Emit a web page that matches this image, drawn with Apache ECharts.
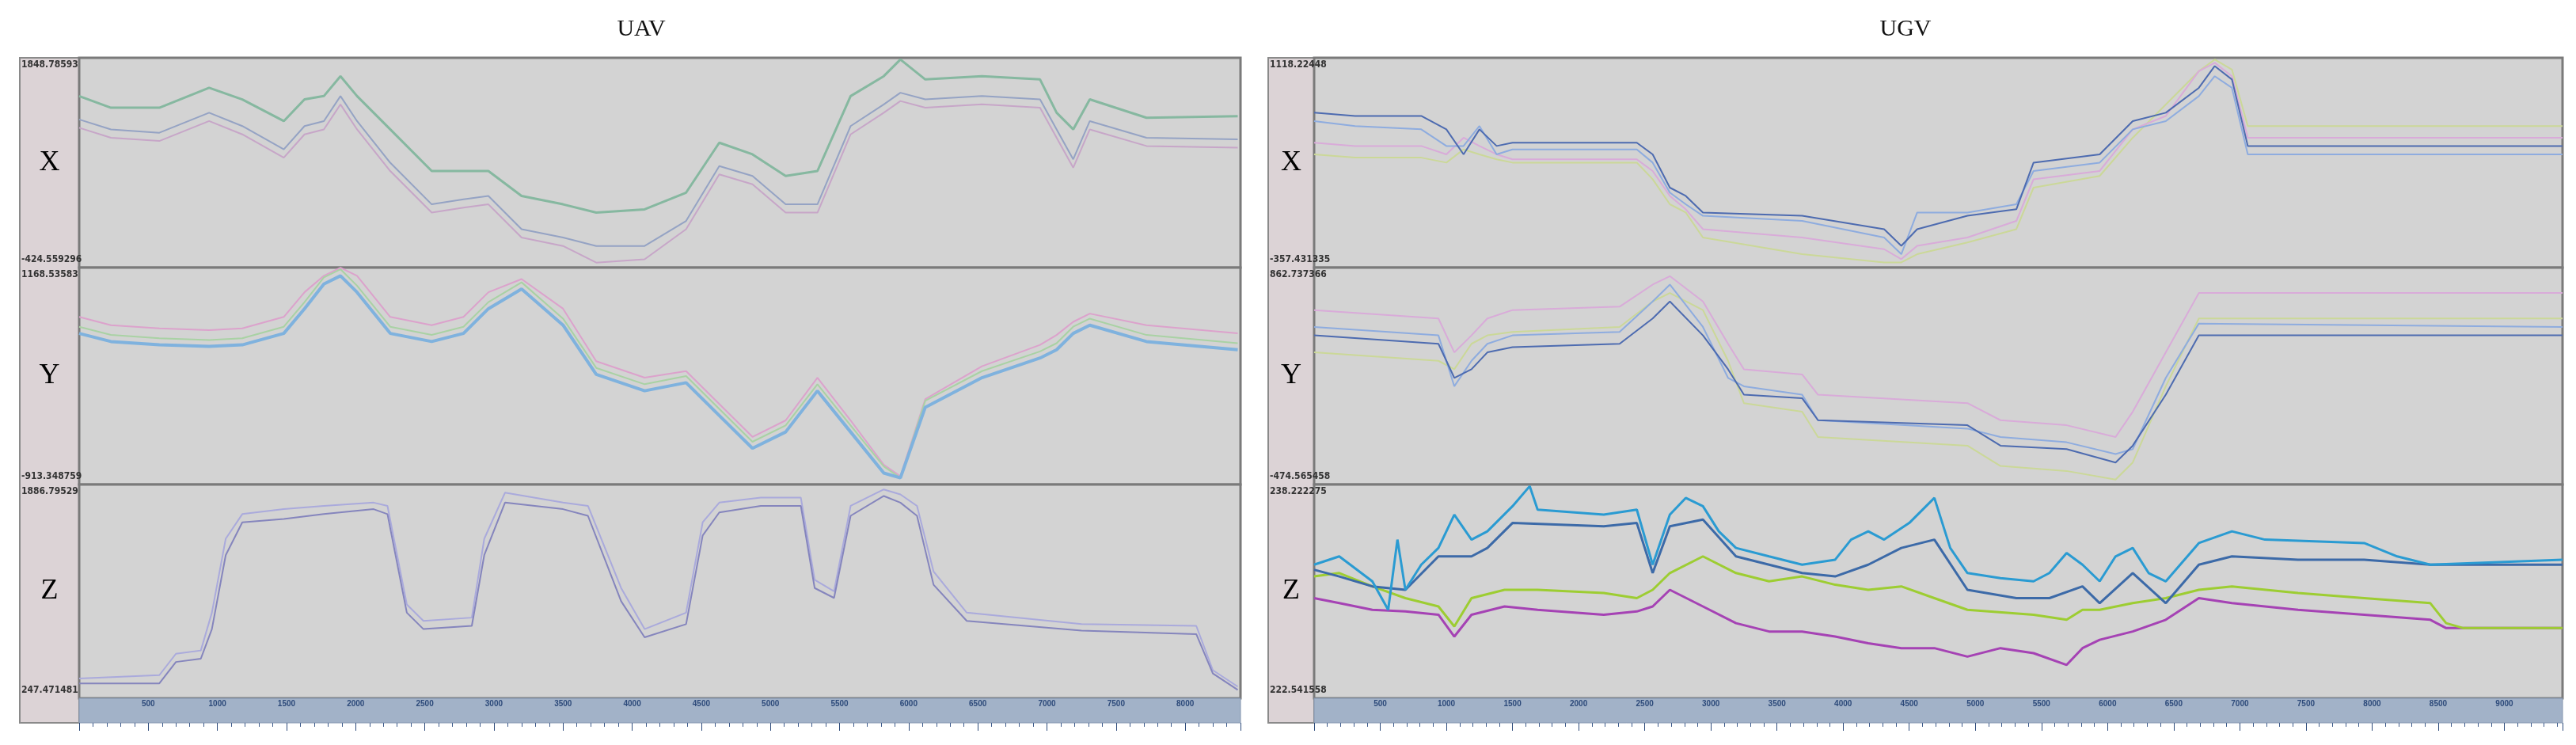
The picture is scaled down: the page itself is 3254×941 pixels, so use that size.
<!DOCTYPE html>
<html>
<head>
<meta charset="utf-8">
<script src="https://cdn.jsdelivr.net/npm/echarts@6.0.0/dist/echarts.min.js"></script>
<style>
  html, body { margin: 0; padding: 0; background: #fff; }
  #chart { width: 3254px; height: 941px; }
</style>
</head>
<body>
<div id="chart"></div>
<script>
// ---------------- 数据 ----------------
// 面板标题与行名
const panelTitles = ['UAV', 'UGV'];
const rowNames = ['X', 'Y', 'Z'];
// 每行的纵轴范围（图中标注的最大/最小值）
const uavRanges = [[-424.559296, 1848.78593], [-913.348759, 1168.53583], [247.471481, 1886.79529]];
const ugvRanges = [[-357.431335, 1118.22448], [-474.565458, 862.737366], [222.541558, 238.222275]];
// 时间轴刻度
const uavTimeMax = 8400;
const ugvTimeMax = 9440;

// UAV X / Y 共用时间点
const uavT = [0, 230, 580, 940, 1180, 1480, 1630, 1770, 1890, 2010, 2250, 2550, 2780, 2960, 3200, 3500, 3740, 4090, 4390, 4630, 4870, 5110, 5340, 5580, 5820, 5940, 6120, 6530, 6950, 7070, 7190, 7310, 7720, 8380];
const uavXGreen = [1434, 1308, 1308, 1524, 1398, 1163, 1398, 1434, 1650, 1434, 1073, 622, 622, 622, 352, 261, 171, 207, 388, 929, 803, 568, 622, 1434, 1650, 1831, 1614, 1650, 1614, 1254, 1073, 1398, 1199, 1217];
const uavXBlue = [1181, 1073, 1037, 1254, 1109, 857, 1109, 1163, 1434, 1163, 712, 261, 316, 352, -9, -99, -190, -190, 81, 676, 568, 261, 261, 1109, 1344, 1470, 1398, 1434, 1398, 1073, 749, 1163, 983, 965];
const uavXPink = [1091, 983, 947, 1163, 1019, 767, 1019, 1073, 1344, 1073, 622, 171, 225, 261, -99, -190, -370, -334, -9, 586, 478, 171, 171, 1019, 1254, 1380, 1308, 1344, 1308, 983, 658, 1073, 893, 875];
const uavYPink = [695, 616, 585, 569, 585, 695, 932, 1090, 1168, 1090, 695, 616, 695, 932, 1058, 774, 270, 112, 175, -140, -456, -298, 112, -298, -724, -834, -93, 222, 427, 522, 648, 727, 616, 537];
const uavYGreen = [601, 522, 490, 474, 490, 601, 837, 1074, 1153, 995, 601, 522, 601, 837, 1027, 679, 206, 49, 127, -188, -503, -346, 49, -346, -740, -850, -109, 175, 364, 443, 601, 679, 522, 443];
const uavYBlue = [537, 459, 427, 412, 427, 537, 774, 1011, 1090, 932, 537, 459, 537, 774, 963, 616, 143, -14, 64, -251, -566, -409, -14, -409, -803, -850, -172, 112, 301, 380, 537, 616, 459, 380];

// UAV Z
const uavZT = [0, 580, 700, 880, 960, 1060, 1180, 1480, 1770, 2130, 2230, 2370, 2490, 2840, 2930, 3080, 3500, 3680, 3920, 4090, 4390, 4510, 4630, 4930, 5220, 5320, 5460, 5580, 5820, 5940, 6060, 6180, 6420, 7250, 8080, 8200, 8380];
const uavZUpper = [400, 425, 589, 614, 904, 1471, 1660, 1698, 1723, 1748, 1723, 967, 841, 866, 1471, 1824, 1748, 1723, 1093, 778, 904, 1597, 1748, 1786, 1786, 1156, 1068, 1723, 1849, 1811, 1723, 1219, 904, 816, 803, 463, 337];
const uavZLower = [362, 362, 526, 551, 778, 1345, 1597, 1622, 1660, 1698, 1660, 904, 778, 803, 1345, 1748, 1698, 1647, 992, 715, 816, 1496, 1673, 1723, 1723, 1093, 1017, 1647, 1799, 1748, 1647, 1118, 841, 766, 740, 438, 312];

// UGV X
const ugvXT = [0, 310, 810, 1000, 1130, 1250, 1380, 1500, 2440, 2560, 2690, 2810, 2940, 3690, 4310, 4440, 4560, 4940, 5310, 5440, 5940, 6190, 6440, 6690, 6810, 6940, 7060, 8060, 9440];
const ugvXDark = [732, 709, 709, 615, 439, 615, 498, 521, 521, 439, 205, 147, 30, 7, -87, -204, -87, 7, 53, 381, 439, 673, 732, 907, 1060, 966, 498, 498, 498];
const ugvXLight = [673, 638, 615, 498, 498, 638, 439, 474, 474, 381, 170, 88, 7, -29, -146, -263, 30, 30, 88, 322, 381, 615, 673, 849, 989, 907, 439, 439, 439];
const ugvXPink = [521, 498, 498, 439, 556, 498, 439, 404, 404, 322, 147, 53, -87, -146, -228, -298, -204, -146, -29, 264, 322, 615, 709, 1024, 1083, 989, 556, 556, 556];
const ugvXGreen = [439, 416, 416, 381, 474, 439, 404, 381, 381, 264, 88, 30, -146, -263, -321, -321, -263, -181, -87, 205, 287, 556, 790, 1024, 1106, 1036, 638, 638, 638];

// UGV Y
const ugvYT = [0, 940, 1060, 1190, 1310, 1500, 2310, 2560, 2690, 2940, 3130, 3250, 3690, 3810, 4940, 5190, 5690, 6060, 6190, 6440, 6690, 9440];
const ugvYDark = [445, 393, 183, 236, 340, 372, 393, 549, 654, 445, 236, 79, 58, -78, -109, -235, -256, -339, -235, 79, 445, 445];
const ugvYLight = [497, 445, 131, 288, 393, 445, 466, 654, 758, 497, 183, 131, 79, -78, -130, -182, -214, -287, -256, 183, 518, 497];
const ugvYPink = [601, 549, 340, 445, 549, 601, 622, 758, 810, 654, 393, 236, 204, 79, 27, -78, -109, -182, -26, 340, 706, 706];
const ugvYGreen = [340, 288, 236, 393, 445, 466, 497, 654, 706, 601, 288, 27, -26, -182, -235, -360, -391, -444, -339, 131, 549, 549];

// UGV Z（噪声较大，逐点读取）
const ugvZCyanT = [0, 190, 440, 560, 630, 690, 810, 940, 1060, 1190, 1310, 1500, 1630, 1690, 2190, 2440, 2560, 2690, 2810, 2940, 3060, 3190, 3440, 3690, 3940, 4060, 4190, 4310, 4500, 4690, 4810, 4940, 5190, 5440, 5560, 5690, 5810, 5940, 6060, 6190, 6310, 6440, 6690, 6940, 7190, 7940, 8190, 8440, 9440];
const ugvZCyan = [232.34, 232.95, 231.12, 229.03, 234.18, 230.50, 232.34, 233.57, 236.01, 234.18, 234.79, 236.63, 238.10, 236.38, 236.01, 236.38, 232.34, 236.01, 237.24, 236.63, 234.79, 233.57, 232.95, 232.34, 232.71, 234.18, 234.79, 234.18, 235.40, 237.24, 233.57, 231.73, 231.36, 231.12, 231.73, 233.20, 232.34, 231.12, 232.95, 233.57, 231.73, 231.12, 233.93, 234.79, 234.18, 233.93, 232.95, 232.34, 232.71];
const ugvZDarkT = [0, 190, 440, 690, 940, 1190, 1310, 1500, 2190, 2440, 2560, 2690, 2940, 3190, 3440, 3690, 3940, 4190, 4440, 4690, 4940, 5310, 5560, 5810, 5940, 6190, 6440, 6690, 6940, 7440, 7940, 8440, 9440];
const ugvZDark = [231.97, 231.48, 230.75, 230.50, 232.95, 232.95, 233.57, 235.40, 235.16, 235.40, 231.73, 235.16, 235.65, 232.95, 232.34, 231.73, 231.48, 232.34, 233.57, 234.18, 230.50, 229.89, 229.89, 230.75, 229.52, 231.73, 229.52, 232.34, 232.95, 232.71, 232.71, 232.34, 232.34];
const ugvZGreenT = [0, 190, 440, 690, 940, 1060, 1190, 1440, 1690, 2190, 2440, 2560, 2690, 2940, 3190, 3440, 3690, 3940, 4190, 4440, 4690, 4940, 5440, 5690, 5810, 5940, 6190, 6440, 6690, 6940, 7440, 7940, 8440, 8560, 8690, 9440];
const ugvZGreen = [231.48, 231.73, 230.75, 229.89, 229.28, 227.81, 229.89, 230.50, 230.50, 230.26, 229.89, 230.50, 231.73, 232.95, 231.73, 231.12, 231.48, 230.87, 230.50, 230.75, 229.89, 229.03, 228.67, 228.30, 229.03, 229.03, 229.52, 229.89, 230.50, 230.75, 230.26, 229.89, 229.52, 228.05, 227.69, 227.69];
const ugvZPurpleT = [0, 190, 440, 690, 940, 1060, 1190, 1440, 1690, 2190, 2440, 2560, 2690, 2940, 3190, 3440, 3690, 3940, 4190, 4440, 4690, 4940, 5190, 5440, 5690, 5810, 5940, 6190, 6440, 6690, 6940, 7440, 7940, 8440, 8560, 9440];
const ugvZPurple = [229.89, 229.52, 229.03, 228.91, 228.67, 227.07, 228.67, 229.28, 229.03, 228.67, 228.91, 229.28, 230.50, 229.28, 228.05, 227.44, 227.44, 227.07, 226.58, 226.22, 226.22, 225.60, 226.22, 225.85, 224.99, 226.22, 226.83, 227.44, 228.30, 229.89, 229.52, 229.03, 228.67, 228.30, 227.69, 227.69];

// ---------------- 布局 ----------------
(function () {
  let myChart = echarts.init(document.getElementById('chart'));

  const rowTop = [73, 338, 612];
  const rowH = [265, 274, 270];
  const barTop = 882, barH = 31;
  const panels = [
    { colLeft: 25, left: 100, width: 1467, tmax: uavTimeMax, ranges: uavRanges, titleX: 810 },
    { colLeft: 1602, left: 1660, width: 1577, tmax: ugvTimeMax, ranges: ugvRanges, titleX: 2407 }
  ];

  let grid = [], xAxis = [], yAxis = [], graphic = [];
  panels.forEach(function (p, pi) {
    // 左侧标签栏
    graphic.push({ type: 'rect', shape: { x: p.colLeft, y: rowTop[0], width: p.left - p.colLeft, height: barTop + barH - rowTop[0] },
      style: { fill: '#dcd3d6', stroke: '#8a8a8a', lineWidth: 2 }, z: -1 });
    graphic.push({ type: 'text', x: p.titleX, y: 37, style: { text: panelTitles[pi], font: '30px "Liberation Serif"', fill: '#111', align: 'center', verticalAlign: 'middle' } });
    for (let r = 0; r < 3; r++) {
      grid.push({ left: p.left, top: rowTop[r], width: p.width, height: rowH[r], show: true,
        backgroundColor: '#d3d3d3', borderColor: '#7a7a7a', borderWidth: 3 });
      xAxis.push({ type: 'value', gridIndex: grid.length - 1, min: 0, max: p.tmax, show: false });
      yAxis.push({ type: 'value', gridIndex: grid.length - 1, min: p.ranges[r][0], max: p.ranges[r][1], show: false });
      graphic.push({ type: 'text', x: (p.colLeft + p.left) / 2, y: rowTop[r] + rowH[r] / 2,
        style: { text: rowNames[r], font: '36px "Liberation Serif"', fill: '#000', align: 'center', verticalAlign: 'middle' } });
      graphic.push({ type: 'text', x: p.colLeft + 2, y: rowTop[r] + 3,
        style: { text: String(p.ranges[r][1]), font: 'bold 12px "Liberation Sans Narrow", "DejaVu Sans Condensed"', fill: '#333' } });
      graphic.push({ type: 'text', x: p.colLeft + 2, y: rowTop[r] + rowH[r] - 16,
        style: { text: String(p.ranges[r][0]), font: 'bold 12px "Liberation Sans Narrow", "DejaVu Sans Condensed"', fill: '#333' } });
    }
    // 底部蓝色时间条
    grid.push({ left: p.left, top: barTop, width: p.width, height: barH, show: true,
      backgroundColor: '#a2b2c8', borderColor: '#8496b0', borderWidth: 1 });
    xAxis.push({ type: 'value', gridIndex: grid.length - 1, min: 0, max: p.tmax, interval: 500, position: 'top',
      axisLine: { show: false },
      axisTick: { show: true, inside: true, length: 10, lineStyle: { color: '#2d4a7a' } },
      minorTick: { show: true, splitNumber: 5, length: 5, lineStyle: { color: '#3d5a8a' } },
      splitLine: { show: false },
      axisLabel: { inside: true, fontSize: 10, fontWeight: 'bold', color: '#2d4a7a', margin: 2,
        showMinLabel: false, showMaxLabel: false, formatter: function (v) { return String(v); } } });
    yAxis.push({ type: 'value', gridIndex: grid.length - 1, show: false });
  });

  function zip(t, v) { return t.map(function (x, i) { return [x, v[i]]; }); }
  function line(idx, t, v, color, width) {
    return { type: 'line', xAxisIndex: idx, yAxisIndex: idx, data: zip(t, v), showSymbol: false,
      lineStyle: { color: color, width: width || 2 }, itemStyle: { color: color }, silent: true };
  }

  let series = [
    line(0, uavT, uavXGreen, '#86b8a0', 3),
    line(0, uavT, uavXBlue, '#95a3c4'),
    line(0, uavT, uavXPink, '#c7a6c8'),
    line(1, uavT, uavYPink, '#dca2cc'),
    line(1, uavT, uavYGreen, '#a9d2a4'),
    line(1, uavT, uavYBlue, '#7fb2de', 4),
    line(2, uavZT, uavZUpper, '#aaaadc'),
    line(2, uavZT, uavZLower, '#8585bd'),
    line(4, ugvXT, ugvXGreen, '#cbd898'),
    line(4, ugvXT, ugvXPink, '#d9abd9'),
    line(4, ugvXT, ugvXLight, '#8eacdf'),
    line(4, ugvXT, ugvXDark, '#4d6bb0'),
    line(5, ugvYT, ugvYGreen, '#cbd898'),
    line(5, ugvYT, ugvYPink, '#d9abd9'),
    line(5, ugvYT, ugvYLight, '#8eacdf'),
    line(5, ugvYT, ugvYDark, '#4d6bb0'),
    line(6, ugvZPurpleT, ugvZPurple, '#a542b4', 3),
    line(6, ugvZGreenT, ugvZGreen, '#9dcd32', 3),
    line(6, ugvZDarkT, ugvZDark, '#3c6aa8', 3),
    line(6, ugvZCyanT, ugvZCyan, '#2a9bd2', 3)
  ];

  let option = {
    animation: false,
    backgroundColor: '#fff',
    grid: grid,
    xAxis: xAxis,
    yAxis: yAxis,
    graphic: graphic,
    series: series
  };
  myChart.setOption(option);
})();
</script>
</body>
</html>
